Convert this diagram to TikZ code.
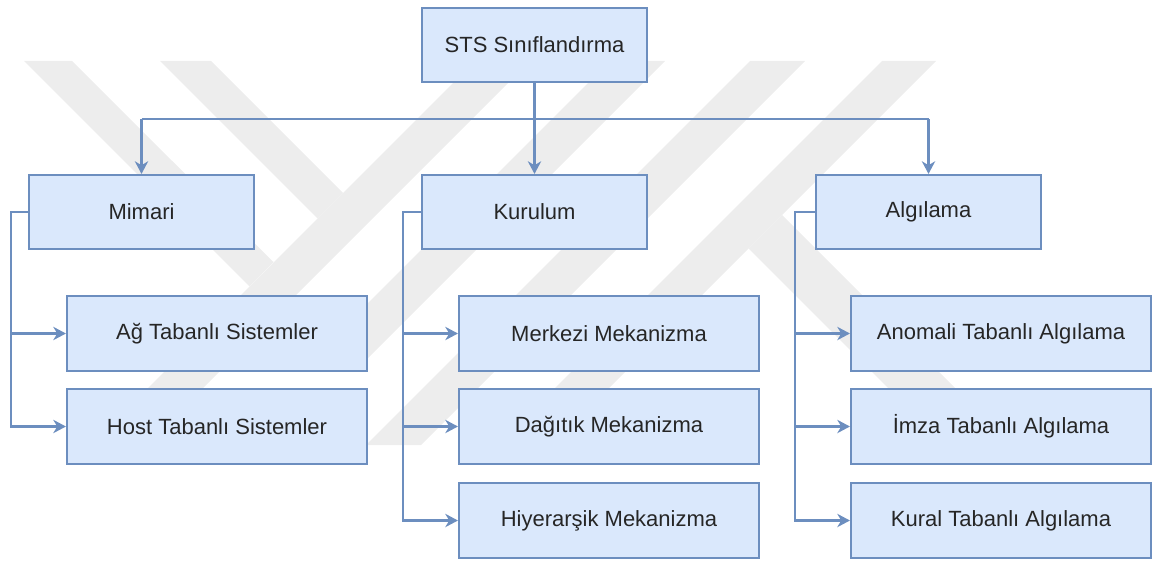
\documentclass[tikz,border=0pt]{standalone}
\usepackage{fontspec}
\setmainfont{Liberation Sans}
\usetikzlibrary{arrows.meta}

\definecolor{boxfill}{HTML}{DAE8FC}
\definecolor{boxline}{HTML}{6C8EBF}
\definecolor{txt}{HTML}{262626}
\definecolor{mark}{HTML}{EDEDED}

\tikzset{
  box/.style={draw=boxline, fill=boxfill, line width=1.6pt, rectangle,
    text=txt, font=\fontsize{16.5}{20}\selectfont, inner sep=0pt},
  headbox/.style={box, minimum width=225*0.75pt, minimum height=74*0.75pt},
  leafbox/.style={box, minimum width=300*0.75pt, minimum height=75*0.75pt},
  link/.style={draw=boxline, line width=1.6pt},
  conn/.style={link, -{Stealth[length=9.5pt,width=10pt,inset=3pt]}},
  stripe/.style={fill=mark, draw=none}
}

\begin{document}
\begin{tikzpicture}[x=0.75pt, y=-0.75pt]
\useasboundingbox (0,0) rectangle (1155,560);

% light background emblem made of diagonal stripes
\fill[stripe] (24,61) -- (72,61) -- (273.5,262) -- (249.5,286.5) -- cycle;
\fill[stripe] (160,61) -- (211,61) -- (343,193) -- (317.5,218.5) -- cycle;
\fill[stripe] (475,61) -- (530,61) -- (193,398) -- (138,398) -- cycle;
\fill[stripe] (610,61) -- (665,61) -- (356,370) -- (301,370) -- cycle;
\fill[stripe] (750,61) -- (805,61) -- (421,445) -- (366,445) -- cycle;
\fill[stripe] (882,61) -- (936,61) -- (552,445) -- (498,445) -- cycle;
\fill[stripe] (782,215) -- (964,397) -- (897,397) -- (748.5,248.5) -- cycle;

% root and first level
\node[headbox] (sts) at (534.5,45) {STS Sınıflandırma};
\node[headbox] (mim) at (141.5,212) {Mimari};
\node[headbox] (kur) at (534.5,212) {Kurulum};
\node[headbox] (alg) at (928.5,212) {Algılama};

% second level
\node[leafbox] (ag)   at (217,333.5) {Ağ Tabanlı Sistemler};
\node[leafbox] (host) at (217,426.5) {Host Tabanlı Sistemler};
\node[leafbox] (mer)  at (609,333.5) {Merkezi Mekanizma};
\node[leafbox] (dag)  at (609,426.5) {Dağıtık Mekanizma};
\node[leafbox] (hiy)  at (609,520.5) {Hiyerarşik Mekanizma};
\node[leafbox] (ano)  at (1001,333.5) {Anomali Tabanlı Algılama};
\node[leafbox] (imz)  at (1001,426.5) {İmza Tabanlı Algılama};
\node[leafbox] (kur2) at (1001,520.5) {Kural Tabanlı Algılama};

% root to first level
\coordinate (bus) at (534.5,119);
\draw[conn] (sts.south) -- (kur.north);
\draw[link] (bus -| mim.north) -- (bus -| alg.north);
\draw[conn] (bus -| mim.north) -- (mim.north);
\draw[conn] (bus -| alg.north) -- (alg.north);

% side rails to second level
\coordinate (mrail) at (11,212);
\coordinate (krail) at (403,212);
\coordinate (arail) at (795,212);
\draw[conn] (mim.west) -- (mrail) |- (ag.west);
\draw[conn] (mim.west) -- (mrail) |- (host.west);
\draw[conn] (kur.west) -- (krail) |- (mer.west);
\draw[conn] (kur.west) -- (krail) |- (dag.west);
\draw[conn] (kur.west) -- (krail) |- (hiy.west);
\draw[conn] (alg.west) -- (arail) |- (ano.west);
\draw[conn] (alg.west) -- (arail) |- (imz.west);
\draw[conn] (alg.west) -- (arail) |- (kur2.west);
\end{tikzpicture}
\end{document}
